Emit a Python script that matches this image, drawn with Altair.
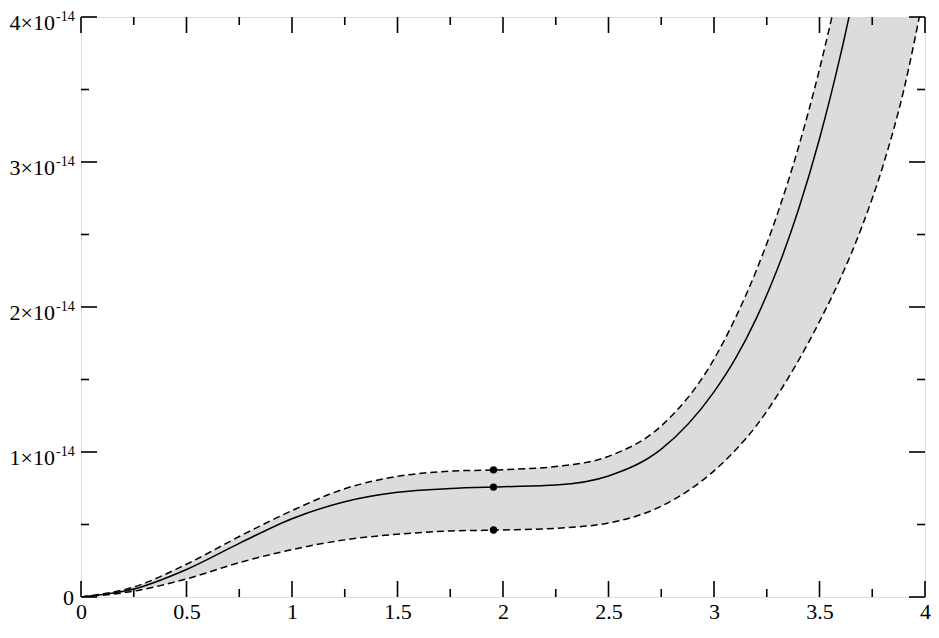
import altair as alt
import pandas as pd

SCALE = 1e-14

# band / curves (values in units of 1e-14)
x_grid = [0, 0.25, 0.5, 0.75, 1.0, 1.25, 1.5, 1.75, 2.0, 2.25, 2.5, 2.75, 3.0,
          3.1, 3.2, 3.3, 3.4, 3.5, 3.6, 3.7, 3.8, 3.9, 4.0]
upper = [0, 0.069, 0.226, 0.417, 0.596, 0.747, 0.832, 0.868, 0.878, 0.9, 0.97, 1.18, 1.64,
         1.92, 2.25, 2.64, 3.10, 3.64, 4.27, 4.99, 5.8, 6.7, 7.7]
lower = [0, 0.04, 0.125, 0.237, 0.327, 0.394, 0.433, 0.455, 0.462, 0.474, 0.51, 0.626, 0.87,
         1.01, 1.18, 1.39, 1.63, 1.90, 2.20, 2.55, 2.97, 3.50, 4.20]
solid_x = x_grid[:20]
solid = [0, 0.055, 0.19, 0.37, 0.54, 0.657, 0.722, 0.748, 0.76, 0.772, 0.835, 1.02, 1.415,
         1.64, 1.92, 2.26, 2.67, 3.16, 3.74, 4.41]

dot_x = [1.955, 1.955, 1.955]
dot_y = [0.877, 0.758, 0.462]

# ticks and labels
x_major = [0, 0.5, 1, 1.5, 2, 2.5, 3, 3.5, 4]
x_minor = [0.25, 0.75, 1.25, 1.75, 2.25, 2.75, 3.25, 3.75]
y_major = [0, 1, 2, 3, 4]
y_minor = [0.5, 1.5, 2.5, 3.5]
y_label_vals = [1, 2, 3, 4]
y_label_base = ["1×10", "2×10", "3×10", "4×10"]
y_label_exp = ["-14", "-14", "-14", "-14"]

W, H = 844, 580
MAJ, MIN = 16, 8
FONT = "'Liberation Serif', 'Times New Roman', 'DejaVu Serif', serif"

band_df = pd.DataFrame({"x": x_grid,
                        "lo": [v * SCALE for v in lower],
                        "hi": [v * SCALE for v in upper]})
dash_df = pd.concat([
    pd.DataFrame({"x": x_grid, "y": [v * SCALE for v in upper], "s": "upper"}),
    pd.DataFrame({"x": x_grid, "y": [v * SCALE for v in lower], "s": "lower"}),
])
solid_df = pd.DataFrame({"x": solid_x, "y": [v * SCALE for v in solid]})
dot_df = pd.DataFrame({"x": dot_x, "y": [v * SCALE for v in dot_y]})
xmaj_df = pd.DataFrame({"x": x_major})
xmin_df = pd.DataFrame({"x": x_minor})
ymaj_df = pd.DataFrame({"y": [v * SCALE for v in y_major]})
ymin_df = pd.DataFrame({"y": [v * SCALE for v in y_minor]})
lab_df = pd.DataFrame({"y": [v * SCALE for v in y_label_vals],
                       "base": y_label_base, "exp": y_label_exp})
zero_df = pd.DataFrame({"y": [0.0], "base": ["0"]})

xscale = alt.Scale(domain=[0, 4], nice=False, zero=False)
yscale = alt.Scale(domain=[0, 4 * SCALE], nice=False, zero=False)
xaxis = alt.Axis(values=x_major, format="~g", ticks=False, domain=False, grid=False,
                 labelFont=FONT, labelFontSize=22, labelColor="black", labelPadding=4,
                 labelFlush=False, labelOverlap=False, title=None)


def X(field="x"):
    return alt.X(f"{field}:Q", scale=xscale, axis=xaxis)


def Y(field="y"):
    return alt.Y(f"{field}:Q", scale=yscale, axis=None)


band = alt.Chart(band_df).mark_area(color="#dcdcdc", clip=True, interpolate="monotone").encode(
    x=X(), y=Y("hi"), y2="lo:Q")

dashed = alt.Chart(dash_df).mark_line(color="black", strokeWidth=1.5, strokeDash=[7, 4],
                                      clip=True, interpolate="monotone").encode(
    x=X(), y=Y(), detail="s:N")

line = alt.Chart(solid_df).mark_line(color="black", strokeWidth=1.5, clip=True,
                                     interpolate="monotone").encode(x=X(), y=Y())

dots = alt.Chart(dot_df).mark_circle(color="black", size=55, opacity=1).encode(x=X(), y=Y())

tick_style = dict(color="black", strokeWidth=1.6)
xt = [
    alt.Chart(xmaj_df).mark_rule(**tick_style).encode(x=X(), y=alt.value(H), y2=alt.value(H - MAJ)),
    alt.Chart(xmaj_df).mark_rule(**tick_style).encode(x=X(), y=alt.value(0), y2=alt.value(MAJ)),
    alt.Chart(xmin_df).mark_rule(**tick_style).encode(x=X(), y=alt.value(H), y2=alt.value(H - MIN)),
    alt.Chart(xmin_df).mark_rule(**tick_style).encode(x=X(), y=alt.value(0), y2=alt.value(MIN)),
    alt.Chart(ymaj_df).mark_rule(**tick_style).encode(y=Y(), x=alt.value(0), x2=alt.value(MAJ)),
    alt.Chart(ymaj_df).mark_rule(**tick_style).encode(y=Y(), x=alt.value(W), x2=alt.value(W - MAJ)),
    alt.Chart(ymin_df).mark_rule(**tick_style).encode(y=Y(), x=alt.value(0), x2=alt.value(MIN)),
    alt.Chart(ymin_df).mark_rule(**tick_style).encode(y=Y(), x=alt.value(W), x2=alt.value(W - MIN)),
]

base_txt = alt.Chart(lab_df).mark_text(align="right", baseline="alphabetic", font=FONT,
                                       fontSize=22, dy=13, color="black").encode(
    x=alt.value(-26), y=Y(), text="base:N")
exp_txt = alt.Chart(lab_df).mark_text(align="left", baseline="alphabetic", font=FONT,
                                      fontSize=14, dy=4, color="black").encode(
    x=alt.value(-25), y=Y(), text="exp:N")
zero_txt = alt.Chart(zero_df).mark_text(align="right", baseline="alphabetic", font=FONT,
                                        fontSize=22, dy=8, color="black").encode(
    x=alt.value(-7), y=Y(), text="base:N")

chart = alt.layer(band, *xt, dashed, line, dots, base_txt, exp_txt, zero_txt).properties(
    width=W, height=H,
    autosize=alt.AutoSizeParams(type="none"),
    padding={"left": 73, "top": 9, "right": 6, "bottom": 27},
).configure_view(stroke="black", strokeWidth=2).configure(background="white")

chart.save("out.html", embed_options={"renderer": "svg", "actions": False})
